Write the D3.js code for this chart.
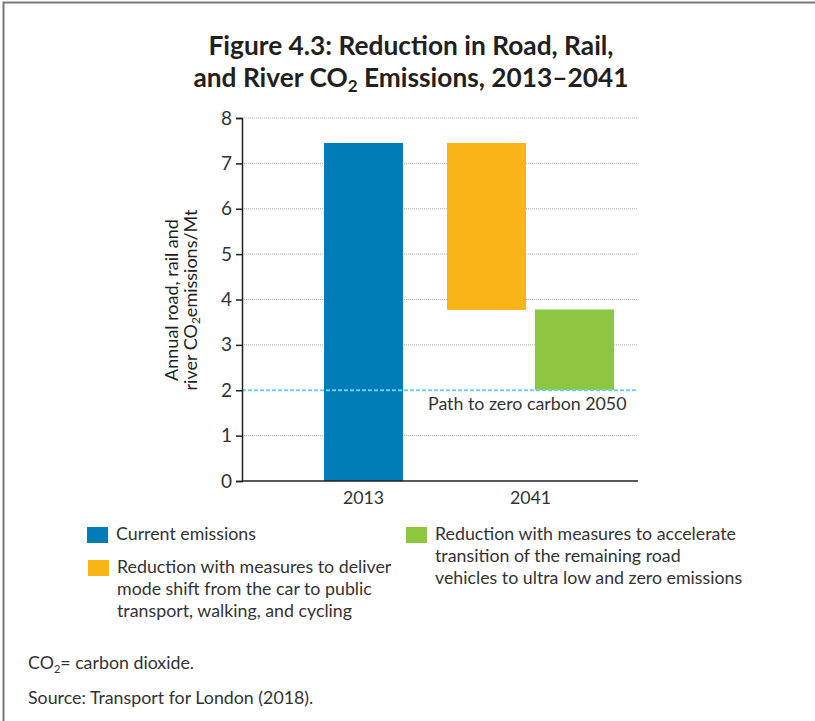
<!DOCTYPE html>
<html><head><meta charset="utf-8">
<script src="https://cdn.jsdelivr.net/npm/d3@7"></script>
<style>
body{margin:0;background:#fff;}
svg text{font-family:Lato,"Open Sans",sans-serif;}
</style></head>
<body><svg id="c" width="815" height="721"></svg>
<script>
const categories = ["2013", "2041"];
const currentEmissions = [7.45, null];
const modeShiftReduction = [null, [3.77, 7.45]];
const zeroEmissionReduction = [null, [2.0, 3.78]];
const yTicks = [0, 1, 2, 3, 4, 5, 6, 7, 8];
const pathTarget = 2;
const legendItems = [
  {color: "#007DB7", lines: ["Current emissions"]},
  {color: "#F9B418", lines: ["Reduction with measures to deliver", "mode shift from the car to public", "transport, walking, and cycling"]},
  {color: "#8DC63F", lines: ["Reduction with measures to accelerate", "transition of the remaining road", "vehicles to ultra low and zero emissions"]}
];

const svg = d3.select("#c");
const txt = "#333";
const fs = 17.8;

// frame
svg.append("path").attr("d", "M3.5,721 V2.5 H815").attr("fill", "none").attr("stroke", "#777").attr("stroke-width", 2);

// title
const title = svg.append("text").attr("text-anchor", "middle").attr("font-weight", "bold").attr("font-size", 26.3).attr("fill", "#231f20");
title.append("tspan").attr("x", 411).attr("y", 55).text("Figure 4.3: Reduction in Road, Rail,");
const t2 = title.append("tspan").attr("x", 411).attr("y", 87);
t2.append("tspan").text("and River CO");
t2.append("tspan").attr("font-size", 17).attr("dy", 5).text("2");
t2.append("tspan").attr("dy", -5).text(" Emissions, 2013–2041");

const pLeft = 242, pRight = 638, pTop = 118, pBottom = 481;
const y = d3.scaleLinear().domain([0, 8]).range([pBottom, pTop]);
const x = d3.scaleBand().domain(categories).range([280, 614]).paddingInner(0).paddingOuter(0);
const barW = 79, off = 44;

// gridlines
svg.append("g").selectAll("line").data(yTicks.filter(d => d > 0 && d !== pathTarget)).join("line")
  .attr("x1", pLeft).attr("x2", pRight).attr("y1", d => y(d)).attr("y2", d => y(d))
  .attr("stroke", "#aaa").attr("stroke-width", 1).attr("stroke-dasharray", "1,1");

// bars
const cx = c => x(c) + x.bandwidth() / 2;
svg.append("g").selectAll("rect").data(categories.map((c, i) => ({c, v: currentEmissions[i]})).filter(d => d.v != null)).join("rect")
  .attr("x", d => cx(d.c) - barW / 2).attr("width", barW)
  .attr("y", d => y(d.v)).attr("height", d => y(0) - y(d.v)).attr("fill", legendItems[0].color);
svg.append("g").selectAll("rect").data(categories.map((c, i) => ({c, v: modeShiftReduction[i]})).filter(d => d.v != null)).join("rect")
  .attr("x", d => cx(d.c) - off - barW / 2).attr("width", barW)
  .attr("y", d => y(d.v[1])).attr("height", d => y(d.v[0]) - y(d.v[1])).attr("fill", legendItems[1].color);
svg.append("g").selectAll("rect").data(categories.map((c, i) => ({c, v: zeroEmissionReduction[i]})).filter(d => d.v != null)).join("rect")
  .attr("x", d => cx(d.c) + off - barW / 2).attr("width", barW)
  .attr("y", d => y(d.v[1])).attr("height", d => y(d.v[0]) - y(d.v[1])).attr("fill", legendItems[2].color);

// path line
svg.append("line").attr("x1", pLeft).attr("x2", pRight).attr("y1", y(pathTarget)).attr("y2", y(pathTarget))
  .attr("stroke", "#6ccff6").attr("stroke-width", 2).attr("stroke-dasharray", "4,2");
svg.append("text").attr("x", 428).attr("y", y(pathTarget) + 20).attr("font-size", fs).attr("fill", txt).text("Path to zero carbon 2050");

// y axis
const yAxis = svg.append("g").attr("transform", `translate(${pLeft},0)`)
  .call(d3.axisLeft(y).tickValues(yTicks).tickSize(6).tickPadding(4).tickFormat(d3.format("d")));
yAxis.select(".domain").attr("stroke", "#231f20").attr("stroke-width", 1.5);
yAxis.selectAll(".tick line").attr("stroke", "#231f20").attr("stroke-width", 1.5);
yAxis.selectAll(".tick text").attr("font-size", 19).attr("fill", txt).attr("font-family", "Lato");

// x axis
const xAxis = svg.append("g").attr("transform", `translate(0,${pBottom})`)
  .call(d3.axisBottom(x).tickSize(0).tickPadding(10));
xAxis.select(".domain").remove();
xAxis.selectAll(".tick text").attr("font-size", fs).attr("fill", txt).attr("font-family", "Lato");
svg.append("line").attr("x1", pLeft).attr("x2", pRight).attr("y1", pBottom).attr("y2", pBottom).attr("stroke", "#231f20").attr("stroke-width", 1.5);

// y title
const yt = svg.append("text").attr("transform", `translate(178,300) rotate(-90)`).attr("text-anchor", "middle").attr("font-size", 18).attr("fill", "#231f20");
yt.append("tspan").attr("x", 0).attr("y", 0).text("Annual road, rail and");
const yl2 = yt.append("tspan").attr("x", 0).attr("y", 19);
yl2.append("tspan").text("river CO");
yl2.append("tspan").attr("font-size", 12).attr("dy", 3).text("2");
yl2.append("tspan").attr("dy", -3).text("emissions/Mt");

// legend
const legPos = [[87, 527], [88, 560], [406, 527]];
legendItems.forEach((it, i) => {
  const [lx, ly] = legPos[i];
  svg.append("rect").attr("x", lx).attr("y", ly).attr("width", 21).attr("height", 16).attr("fill", it.color);
  const t = svg.append("text").attr("font-size", fs).attr("fill", txt);
  it.lines.forEach((l, j) => t.append("tspan").attr("x", lx + 29).attr("y", ly + 13 + j * 22).text(l));
});

// notes
const n1 = svg.append("text").attr("x", 28).attr("y", 669).attr("font-size", fs).attr("fill", txt);
n1.append("tspan").text("CO");
n1.append("tspan").attr("font-size", 11).attr("dy", 4).text("2");
n1.append("tspan").attr("dy", -4).text("= carbon dioxide.");
svg.append("text").attr("x", 28).attr("y", 704).attr("font-size", fs).attr("fill", txt).text("Source: Transport for London (2018).");
</script></body></html>
